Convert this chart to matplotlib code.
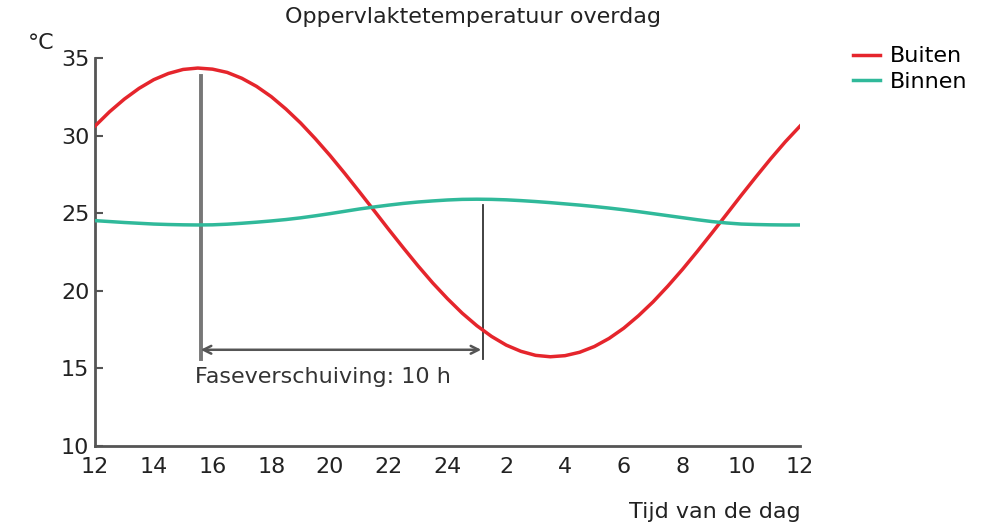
import matplotlib.pyplot as plt

plt.rcParams["font.family"] = ["DejaVu Sans"]

# half-hour steps from 12:00 to 12:00 the next day
hours = [12 + 0.5 * i for i in range(49)]
tick_hours = list(range(12, 37, 2))
tick_labels = ["12", "14", "16", "18", "20", "22", "24", "2", "4", "6", "8", "10", "12"]

buiten = [30.61, 31.54, 32.35, 33.04, 33.60, 34.00, 34.26, 34.35, 34.28, 34.07,
          33.69, 33.17, 32.51, 31.71, 30.81, 29.80, 28.72, 27.57, 26.38, 25.17,
          23.95, 22.76, 21.60, 20.50, 19.49, 18.56, 17.75, 17.06, 16.50, 16.10,
          15.84, 15.75, 15.82, 16.04, 16.41, 16.93, 17.59, 18.39, 19.29, 20.30,
          21.38, 22.53, 23.72, 24.93, 26.15, 27.34, 28.50, 29.60, 30.61]
binnen = [24.52, 24.46, 24.40, 24.35, 24.30, 24.27, 24.25, 24.24, 24.25, 24.29,
          24.35, 24.42, 24.50, 24.59, 24.70, 24.83, 24.97, 25.12, 25.27, 25.40,
          25.52, 25.63, 25.72, 25.79, 25.85, 25.89, 25.90, 25.89, 25.86, 25.81,
          25.75, 25.68, 25.60, 25.52, 25.43, 25.33, 25.22, 25.10, 24.97, 24.84,
          24.71, 24.58, 24.46, 24.37, 24.30, 24.27, 24.25, 24.24, 24.24]

# phase shift markers
peak_hour, peak_top = 15.6, 33.85
shift_hour, shift_top = 25.2, 25.55
line_bottom = 15.6
arrow_y = 16.2

fig = plt.figure(figsize=(9.81, 5.27), dpi=100)
ax = fig.add_axes([0.0968, 0.1537, 0.7187, 0.7363])

ax.plot(hours, buiten, color="#e5252c", lw=2.5, label="Buiten", zorder=3)
ax.plot(hours, binnen, color="#30b99a", lw=2.5, label="Binnen", zorder=3)

ax.plot([peak_hour, peak_hour], [line_bottom, peak_top], color="#777777", lw=2.8, zorder=2)
ax.plot([shift_hour, shift_hour], [line_bottom, shift_top], color="#333333", lw=1.3, zorder=2)
ax.annotate("", xy=(peak_hour, arrow_y), xytext=(shift_hour - 0.05, arrow_y),
            arrowprops=dict(arrowstyle="<->", color="#555555", lw=1.8,
                            mutation_scale=14, shrinkA=0, shrinkB=0))
ax.text(peak_hour - 0.2, 14.45, "Faseverschuiving: 10 h", fontsize=16,
        color="#333333", va="center", ha="left")

ax.set_xlim(12, 36)
ax.set_ylim(10, 35)
ax.set_xticks(tick_hours)
ax.set_xticklabels(tick_labels)
ax.set_yticks([10, 15, 20, 25, 30, 35])

for s in ["top", "right"]:
    ax.spines[s].set_visible(False)
for s in ["left", "bottom"]:
    ax.spines[s].set_color("#555555")
    ax.spines[s].set_linewidth(2)

ax.tick_params(axis="y", direction="in", length=6, width=1.5, color="#555555",
               labelsize=16, labelcolor="#222222", pad=4)
ax.tick_params(axis="x", length=0, labelsize=16, labelcolor="#222222", pad=8)

fig.text(0.482, 0.967, "Oppervlaktetemperatuur overdag", ha="center", va="center",
         fontsize=16, color="#222222")
fig.text(0.028, 0.918, "°C", ha="left", va="center", fontsize=16, color="#222222")
fig.text(0.816, 0.028, "Tijd van de dag", ha="right", va="center", fontsize=16,
         color="#222222")

fig.legend(loc="upper left", bbox_to_anchor=(0.849, 0.95), frameon=False,
           fontsize=16, handlelength=1.2, handletextpad=0.45, labelspacing=0.25)

fig.savefig("out.png", dpi=100)
